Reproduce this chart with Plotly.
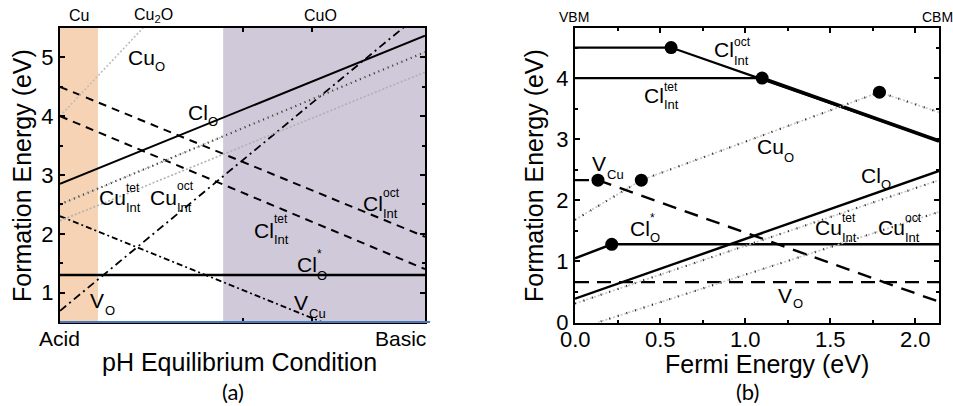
import plotly.graph_objects as go

W, H = 953, 406

# ---------------- Panel (a) data : pH equilibrium (0 = acid, 1 = basic) ----------------
ph_x = [0.0, 1.0]
phase_names = ["Cu", "Cu<sub>2</sub>O", "CuO"]
phase_bounds = [0.0, 0.104, 0.447, 1.0]
cl_o_a = [2.85, 5.37]
cl_o_star_a = [1.30, 1.30]
cl_int_oct_a = [4.50, 1.95]
cl_int_tet_a = [4.00, 1.40]
v_o_a = [0.69, 5.81]
v_cu_a = [2.30, -0.21]
cu_o_a = [4.00, 10.6]
cu_int_tet_a = [2.50, 5.09]
cu_int_oct_a = [2.22, 4.75]
a_yticks = [1, 2, 3, 4, 5]

# ---------------- Panel (b) data : Fermi energy ----------------
cl_int_oct_b_x = [0.0, 0.565, 2.14]
cl_int_oct_b_y = [4.50, 4.50, 2.97]
cl_int_tet_b_x = [0.0, 1.10, 2.14]
cl_int_tet_b_y = [4.00, 4.00, 2.97]
cu_o_b_x = [0.0, 0.39, 1.79, 2.14]
cu_o_b_y = [1.68, 2.33, 3.77, 3.44]
v_cu_b_x = [0.0, 0.135, 2.14]
v_cu_b_y = [2.33, 2.33, 0.34]
cl_o_b_x = [0.0, 2.14]
cl_o_b_y = [0.39, 2.48]
cl_o_star_b_x = [0.0, 0.216, 2.14]
cl_o_star_b_y = [1.05, 1.28, 1.28]
v_o_b_x = [0.0, 2.14]
v_o_b_y = [0.66, 0.66]
cu_int_tet_b_x = [0.0, 2.14]
cu_int_tet_b_y = [0.31, 2.33]
cu_int_oct_b_x = [0.0, 2.14]
cu_int_oct_b_y = [-0.12, 1.81]
trans_x = [0.565, 1.10, 1.79, 0.39, 0.135, 0.216]
trans_y = [4.50, 4.00, 3.77, 2.33, 2.33, 1.28]
b_xticks = [0.0, 0.5, 1.0, 1.5, 2.0]

FONT = "Liberation Sans, Arial, sans-serif"
CW = {"C": 0.722, "u": 0.556, "l": 0.222, "V": 0.667}

def fx(px):
    return px / W

def fy(py):
    return 1 - py / H

fig = go.Figure()

def line(x, y, xa, ya, color="black", width=2, dash="solid"):
    fig.add_trace(go.Scatter(x=x, y=y, xaxis=xa, yaxis=ya, mode="lines",
                             line=dict(color=color, width=width, dash=dash),
                             hoverinfo="skip", showlegend=False))

def tickdots(x, y, xa, ya, dark="#222", dense=False):
    line(x, y, xa, ya, color="#c4c4c4", width=1.6, dash="2px,2px")
    line(x, y, xa, ya, color=dark, width=2.2, dash=("1px,4px" if dense else "1px,8px"))

# panel a traces
line(ph_x, cl_o_a, "x", "y", width=2)
line(ph_x, cl_o_star_a, "x", "y", width=2.4)
line(ph_x, cl_int_oct_a, "x", "y", width=2, dash="8px,6px")
line(ph_x, cl_int_tet_a, "x", "y", width=2, dash="8px,6px")
line(ph_x, v_o_a, "x", "y", width=1.8, dash="8px,4px,2px,4px")
line(ph_x, v_cu_a, "x", "y", width=1.8, dash="6px,3px,2px,3px")
line(ph_x, cu_o_a, "x", "y", color="#bdbdbd", width=1.6, dash="2px,2px")
tickdots(ph_x, cu_int_tet_a, "x", "y", dark="#333", dense=True)
line(ph_x, cu_int_oct_a, "x", "y", color="#b0b0b0", width=1.6, dash="2px,2px")

# panel b traces
line(cl_int_oct_b_x, cl_int_oct_b_y, "x2", "y2", width=2.2)
line(cl_int_tet_b_x[:2], cl_int_tet_b_y[:2], "x2", "y2", width=2.2)
line(cl_int_tet_b_x[1:], cl_int_tet_b_y[1:], "x2", "y2", width=3.6)
tickdots(cu_o_b_x, cu_o_b_y, "x2", "y2")
line(v_cu_b_x, v_cu_b_y, "x2", "y2", width=2.4, dash="14px,9px")
line(cl_o_b_x, cl_o_b_y, "x2", "y2", width=2.4)
line(cl_o_star_b_x, cl_o_star_b_y, "x2", "y2", width=2.4)
line(v_o_b_x, v_o_b_y, "x2", "y2", width=2.4, dash="14px,8px")
tickdots(cu_int_tet_b_x, cu_int_tet_b_y, "x2", "y2")
tickdots(cu_int_oct_b_x, cu_int_oct_b_y, "x2", "y2")
fig.add_trace(go.Scatter(x=trans_x, y=trans_y, xaxis="x2", yaxis="y2", mode="markers",
                         marker=dict(color="black", size=13), hoverinfo="skip", showlegend=False))

# phase bands (panel a)
band_colors = ["#f6d3b4", None, "#cfc9da"]
shapes = []
for i, c in enumerate(band_colors):
    if c is None:
        continue
    shapes.append(dict(type="rect", xref="x", yref="y domain", x0=phase_bounds[i], x1=phase_bounds[i + 1],
                       y0=0, y1=1, fillcolor=c, line=dict(width=0), layer="below"))
shapes.append(dict(type="line", xref="x domain", yref="y domain", x0=0, x1=1.014, y0=0, y1=0,
                   line=dict(color="#4a78b8", width=2.2), layer="above"))

ann = []

def txt(px, py, s, size=21, anchor="left", font=FONT, yanchor="middle"):
    ann.append(dict(x=fx(px), y=fy(py), xref="paper", yref="paper", text=s, showarrow=False,
                    xanchor=anchor, yanchor=yanchor, borderpad=0,
                    font=dict(family=font, size=size, color="black")))

def lab(px, py, main, sup=None, supy=None, sub=None, suby=None):
    txt(px, py, main, 21)
    sx = px + sum(CW[ch] for ch in main) * 21 + 0.5
    if sup:
        txt(sx, supy, sup, 12)
    if sub:
        txt(sx, suby, sub, 13)

# phase names on top of panel a
for name, cx in zip(phase_names, [79, 153, 320]):
    txt(cx, 15, name, 16, anchor="center")

lab(127, 57, "Cu", sub="O", suby=67)
lab(187, 113, "Cl", sub="O", suby=121)
lab(98, 197, "Cu", sup="tet", supy=188, sub="Int", suby=207)
lab(149, 197, "Cu", sup="oct", supy=186, sub="Int", suby=207)
lab(253, 230, "Cl", sup="tet", supy=219, sub="Int", suby=239)
lab(362, 203, "Cl", sup="oct", supy=193, sub="Int", suby=213)
lab(296, 264, "Cl", sup="*", supy=254, sub="O", suby=275)
lab(89, 300, "V", sub="O", suby=310)
lab(293, 302, "V", sub="Cu", suby=313)

txt(60, 338, "Acid", 21, anchor="center")
txt(400, 338, "Basic", 21, anchor="center")
txt(240, 362, "pH Equilibrium Condition", 25, anchor="center")
txt(233, 406, "(a)", 22, anchor="center", font="Lato, Open Sans, sans-serif", yanchor="bottom")
ann.append(dict(x=fx(22), y=fy(176), xref="paper", yref="paper", text="Formation Energy (eV)",
                showarrow=False, textangle=-90, xanchor="center", yanchor="middle",
                font=dict(family=FONT, size=25, color="black")))

# panel b labels
txt(574, 17, "VBM", 14, anchor="center")
txt(937, 17, "CBM", 14, anchor="center")
lab(713, 50, "Cl", sup="oct", supy=42, sub="Int", suby=60)
lab(643, 95, "Cl", sup="tet", supy=87, sub="Int", suby=104)
lab(756, 147, "Cu", sub="O", suby=157)
lab(591, 163, "V", sub="Cu", suby=174)
lab(860, 175, "Cl", sub="O", suby=185)
lab(629, 228, "Cl", sup="*", supy=218, sub="O", suby=238)
lab(814, 227, "Cu", sup="tet", supy=218, sub="Int", suby=237)
lab(877, 227, "Cu", sup="oct", supy=218, sub="Int", suby=237)
lab(777, 295, "V", sub="O", suby=303)

# x tick labels of panel b (placed just under the axis, as in the original)
for v in b_xticks:
    ann.append(dict(x=v, xref="x2", y=fy(326), yref="paper", text=f"{v:.1f}", showarrow=False,
                    xanchor="center", yanchor="top", borderpad=0,
                    font=dict(family=FONT, size=22, color="black")))

txt(767, 364, "Fermi Energy (eV)", 25, anchor="center")
txt(747, 406, "(b)", 22, anchor="center", font="Lato, Open Sans, sans-serif", yanchor="bottom")
ann.append(dict(x=fx(534), y=fy(176), xref="paper", yref="paper", text="Formation Energy (eV)",
                showarrow=False, textangle=-90, xanchor="center", yanchor="middle",
                font=dict(family=FONT, size=25, color="black")))

axis_common = dict(showline=True, linecolor="black", linewidth=2, mirror="ticks", ticks="inside",
                   showgrid=False, zeroline=False, tickcolor="black", tickwidth=2, automargin=False,
                   tickfont=dict(family=FONT, size=22, color="black"))

fig.update_layout(
    width=W, height=H, margin=dict(l=0, r=0, t=0, b=0, autoexpand=False),
    paper_bgcolor="white", plot_bgcolor="white", showlegend=False,
    xaxis=dict(domain=[fx(60), fx(425)], anchor="y", range=[0, 1], tickvals=[0.5, 0.69],
               showticklabels=False, ticklen=4, **axis_common),
    yaxis=dict(domain=[fy(322), fy(28)], anchor="x", range=[0.5, 5.5], tickvals=a_yticks, ticklen=5,
               minor=dict(dtick=0.5, ticklen=3, ticks="inside", tickcolor="black", tickwidth=2),
               **axis_common),
    xaxis2=dict(domain=[fx(575), fx(939)], anchor="y2", range=[0, 2.14], tickvals=b_xticks,
                showticklabels=False, ticklen=5,
                minor=dict(dtick=0.25, ticklen=3, ticks="inside", tickcolor="black", tickwidth=2),
                **axis_common),
    yaxis2=dict(domain=[fy(322.5), fy(28)], anchor="x2", range=[0, 4.82], dtick=1, tick0=0, ticklen=5,
                minor=dict(dtick=0.5, ticklen=3, ticks="inside", tickcolor="black", tickwidth=2),
                **axis_common),
    shapes=shapes, annotations=ann,
)

fig.write_html("out.html")
